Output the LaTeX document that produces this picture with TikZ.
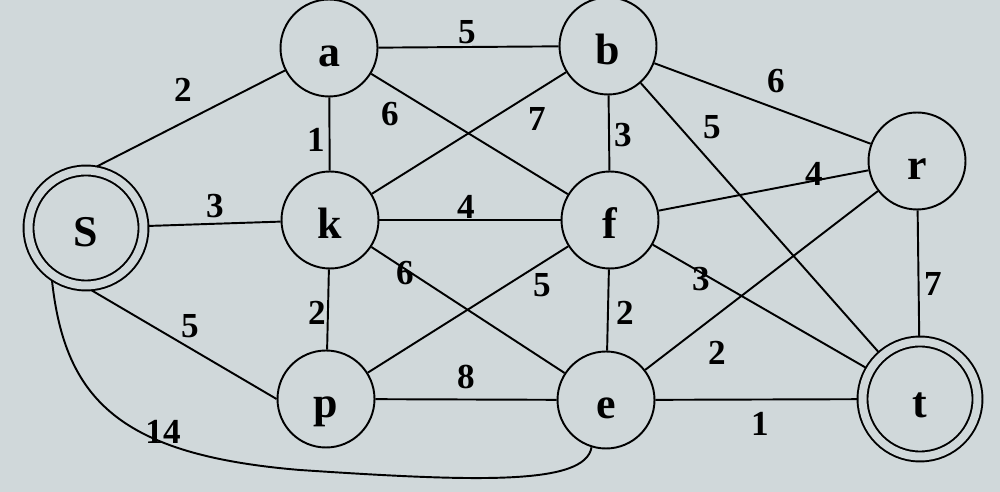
\documentclass[tikz,border=0pt]{standalone}
\usepackage{fontspec}
\setmainfont{Liberation Serif}
\definecolor{ecran}{RGB}{208,216,218}
\begin{document}
\begin{tikzpicture}[x=0.02cm, y=-0.02cm, line width=1.1pt]
\tikzset{sommet/.style={draw, circle, minimum size=1.94cm, inner sep=0pt, text height=0.75cm, text depth=0cm, font=\fontsize{25}{30}\selectfont\bfseries},
terminal/.style={sommet, double=ecran, double distance=0.16cm, minimum size=2.3cm, outer sep=0.1cm},
poids/.style={font=\fontsize{20}{24}\selectfont\bfseries, inner sep=1pt}}
\fill[ecran] (0,0) rectangle (1000,492);
\useasboundingbox (0,0) rectangle (1000,492);
\clip (0,0) rectangle (1000,492);
\node[terminal] (S) at (86,228) {S};
\node[sommet] (a) at (329,48) {a};
\node[sommet] (b) at (608,46) {b};
\node[sommet] (r) at (917,161) {r};
\node[sommet] (k) at (330,220) {k};
\node[sommet] (f) at (610,220) {f};
\node[sommet] (p) at (326,399) {p};
\node[sommet] (e) at (606,400) {e};
\node[terminal] (t) at (920,399) {t};
\draw (S.80) -- (a);
\draw (S) -- (k);
\draw (S.-85) -- (p.west);
\draw (S.-123) .. controls (65,400) and (120,455) .. (300,470) .. controls (480,482) and (585,485) .. (e.-107);
\draw (a) -- (b);
\draw (a) -- (k);
\draw (a) -- (f);
\draw (b) -- (k);
\draw (b) -- (f);
\draw (b) -- (r);
\draw (b) -- (t);
\draw (k) -- (f);
\draw (k) -- (p);
\draw (k) -- (e);
\draw (p) -- (f);
\draw (f) -- (r);
\draw (f) -- (e);
\draw (f) -- (t);
\draw (r) -- (e);
\draw (r) -- (t);
\draw (p) -- (e);
\draw (e) -- (t);
% poids des aretes
\node[poids] (pSa) at (183,90) {2};
\node[poids] (pSk) at (215,206) {3};
\node[poids] (pSp) at (190,326) {5};
\node[poids] (pSe) at (163,432) {14};
\node[poids] (pab) at (467,32) {5};
\node[poids] (pak) at (316,140) {1};
\node[poids] (paf) at (390,114) {6};
\node[poids] (pbk) at (537,119) {7};
\node[poids] (pbf) at (623,135) {3};
\node[poids] (pbr) at (776,81) {6};
\node[poids] (pbt) at (712,127) {5};
\node[poids] (pkf) at (466,207) {4};
\node[poids] (pkp) at (317,313) {2};
\node[poids] (pke) at (405,273) {6};
\node[poids] (ppf) at (542,285) {5};
\node[poids] (pfr) at (814,174) {4};
\node[poids] (pfe) at (625,313) {2};
\node[poids] (pft) at (701,279) {3};
\node[poids] (pre) at (717,353) {2};
\node[poids] (prt) at (933,284) {7};
\node[poids] (ppe) at (466,377) {8};
\node[poids] (pet) at (760,424) {1};
\end{tikzpicture}
\end{document}
